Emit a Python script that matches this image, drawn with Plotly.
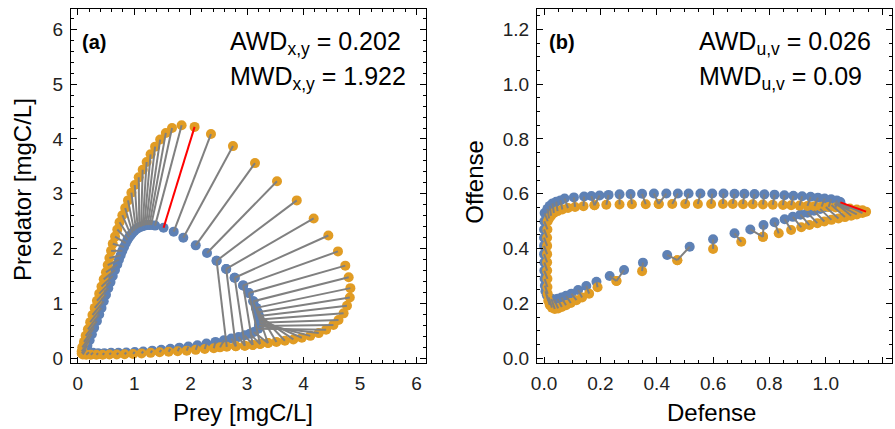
import numpy as np
import plotly.graph_objects as go
from plotly.subplots import make_subplots

# (a) matched pairs: orange point i <-> blue point i  (prey, predator in mgC/L)
prey_o = [0.70, 0.66, 0.62, 0.59, 0.56, 0.53, 0.50, 0.46, 0.42, 0.38, 0.34, 0.30, 0.26, 0.22, 0.18, 0.14,
          0.11, 0.08, 0.07, 0.07, 0.09,
          0.15, 0.23, 0.33, 0.44, 0.56, 0.69, 0.83, 0.98, 1.13, 1.29, 1.45, 1.61, 1.77, 1.93, 2.09, 2.25,
          2.41, 2.52, 2.80, 2.96, 3.10, 3.23, 3.37,
          2.64, 2.80, 2.96, 3.10, 3.23, 3.37, 3.52, 3.67, 3.82, 3.97, 4.12, 4.27, 4.40,
          4.53, 4.62, 4.71, 4.77, 4.82, 4.83, 4.80, 4.74, 4.61, 4.44, 4.18, 3.88, 3.53, 3.14, 2.75, 2.36,
          2.07, 1.84,
          1.67, 1.56, 1.46, 1.37, 1.29, 1.22, 1.15, 1.08, 1.01, 0.95, 0.89, 0.84, 0.79, 0.74]
pred_o = [2.35, 2.22, 2.09, 1.96, 1.83, 1.70, 1.57, 1.44, 1.31, 1.18, 1.05, 0.92, 0.79, 0.66, 0.53, 0.41,
          0.30, 0.20, 0.13, 0.09, 0.07,
          0.065, 0.065, 0.065, 0.065, 0.07, 0.07, 0.075, 0.08, 0.09, 0.10, 0.11, 0.12, 0.13, 0.14, 0.155, 0.17,
          0.185, 0.20, 0.22, 0.23, 0.245, 0.26, 0.28,
          0.21, 0.22, 0.23, 0.245, 0.26, 0.28, 0.30, 0.32, 0.345, 0.375, 0.41, 0.46, 0.52,
          0.61, 0.70, 0.82, 0.96, 1.11, 1.28, 1.48, 1.69, 1.95, 2.24, 2.55, 2.88, 3.23, 3.56, 3.87, 4.09,
          4.22, 4.25,
          4.20, 4.11, 3.99, 3.86, 3.72, 3.58, 3.44, 3.30, 3.16, 3.02, 2.88, 2.74, 2.61, 2.48]
prey_b = [0.88, 0.85, 0.82, 0.79, 0.76, 0.73, 0.70, 0.66, 0.62, 0.58, 0.54, 0.50, 0.46, 0.42, 0.38, 0.34,
          0.29, 0.25, 0.21, 0.17, 0.14,
          0.20, 0.27, 0.36, 0.47, 0.59, 0.72, 0.86, 1.01, 1.16, 1.32, 1.48, 1.64, 1.80, 1.96, 2.12, 2.28,
          2.44, 2.59, 2.72, 2.85, 2.96, 3.05, 3.12,
          2.46, 2.63, 2.78, 2.93, 3.03, 3.11, 3.16, 3.19, 3.21, 3.22, 3.22, 3.21, 3.20,
          3.21, 3.22, 3.22, 3.21, 3.19, 3.16, 3.11, 3.03, 2.93, 2.78, 2.63, 2.46, 2.29, 2.09, 1.87, 1.70,
          1.52, 1.37,
          1.30, 1.27, 1.24, 1.21, 1.18, 1.15, 1.12, 1.09, 1.06, 1.03, 1.00, 0.97, 0.94, 0.91]
pred_b = [2.16, 2.10, 2.03, 1.96, 1.88, 1.80, 1.71, 1.61, 1.50, 1.39, 1.28, 1.16, 1.04, 0.92, 0.80, 0.68,
          0.56, 0.44, 0.33, 0.23, 0.16,
          0.11, 0.10, 0.095, 0.095, 0.10, 0.10, 0.105, 0.115, 0.125, 0.14, 0.155, 0.175, 0.195, 0.215, 0.24, 0.27,
          0.30, 0.33, 0.36, 0.39, 0.42, 0.45, 0.48,
          1.78, 1.63, 1.47, 1.33, 1.19, 1.04, 0.92, 0.84, 0.77, 0.71, 0.65, 0.59, 0.54,
          0.59, 0.65, 0.71, 0.77, 0.84, 0.92, 1.04, 1.19, 1.33, 1.47, 1.63, 1.78, 1.92, 2.06, 2.20, 2.31,
          2.38, 2.42,
          2.43, 2.43, 2.43, 2.43, 2.42, 2.41, 2.40, 2.39, 2.37, 2.35, 2.32, 2.29, 2.25, 2.21]

# (b) matched pairs: orange point i <-> blue point i  (defense, offense)
def_o = [0.013, 0.012, 0.011, 0.011, 0.011, 0.011, 0.011, 0.012, 0.012, 0.013, 0.015, 0.020, 0.028, 0.038,
         0.050, 0.063, 0.078, 0.095, 0.115, 0.135, 0.160, 0.190, 0.257, 0.257, 0.348, 0.473, 0.473, 0.600,
         0.700, 0.777, 0.777, 0.833, 0.877, 0.913, 0.942, 0.970, 0.995, 1.020, 1.045, 1.068, 1.090, 1.143,
         1.110, 1.130, 1.060, 1.085, 1.110, 1.130,
         0.085, 0.110, 0.140, 0.179, 0.179, 0.221, 0.268, 0.312, 0.361, 0.407, 0.407, 0.455, 0.501, 0.546,
         0.593, 0.635, 0.670, 0.706, 0.741, 0.777, 0.812, 0.848, 0.877, 0.907, 0.935, 0.960, 0.985, 1.010,
         1.035,
         0.065, 0.048, 0.035, 0.025, 0.018]
off_o = [0.500, 0.470, 0.440, 0.410, 0.380, 0.350, 0.320, 0.290, 0.260, 0.235, 0.210, 0.195, 0.185, 0.180,
         0.182, 0.187, 0.194, 0.202, 0.212, 0.222, 0.236, 0.259, 0.282, 0.282, 0.318, 0.358, 0.358, 0.399,
         0.425, 0.443, 0.443, 0.456, 0.468, 0.478, 0.486, 0.493, 0.499, 0.505, 0.510, 0.515, 0.520, 0.535,
         0.525, 0.530, 0.548, 0.546, 0.543, 0.540,
         0.548, 0.552, 0.555, 0.558, 0.558, 0.560, 0.561, 0.562, 0.562, 0.563, 0.563, 0.563, 0.563, 0.563,
         0.563, 0.563, 0.563, 0.562, 0.562, 0.561, 0.560, 0.559, 0.558, 0.557, 0.556, 0.555, 0.553, 0.552,
         0.550,
         0.543, 0.537, 0.530, 0.520, 0.510]
def_b = [0.002, 0.001, 0.000, 0.000, 0.000, 0.000, 0.001, 0.001, 0.002, 0.003, 0.005, 0.010, 0.017, 0.026,
         0.036, 0.048, 0.062, 0.078, 0.097, 0.121, 0.150, 0.186, 0.233, 0.284, 0.351, 0.437, 0.517, 0.600,
         0.676, 0.732, 0.779, 0.818, 0.854, 0.883, 0.910, 0.935, 0.958, 0.980, 1.000, 1.020, 1.037, 1.052,
         1.035, 1.050, 1.045, 1.030, 1.040, 1.048,
         0.073, 0.106, 0.142, 0.168, 0.197, 0.229, 0.268, 0.307, 0.348, 0.390, 0.434, 0.475, 0.513, 0.555,
         0.597, 0.637, 0.676, 0.711, 0.747, 0.782, 0.818, 0.853, 0.885, 0.916, 0.946, 0.972, 0.996, 1.019,
         1.039,
         0.058, 0.043, 0.030, 0.020, 0.012]
off_b = [0.530, 0.500, 0.470, 0.440, 0.410, 0.380, 0.350, 0.320, 0.290, 0.265, 0.245, 0.230, 0.222, 0.217,
         0.215, 0.217, 0.222, 0.228, 0.236, 0.249, 0.264, 0.279, 0.300, 0.322, 0.349, 0.377, 0.407, 0.434,
         0.456, 0.470, 0.486, 0.496, 0.507, 0.516, 0.524, 0.531, 0.538, 0.545, 0.552, 0.559, 0.565, 0.569,
         0.564, 0.570, 0.567, 0.562, 0.566, 0.568,
         0.583, 0.587, 0.590, 0.592, 0.594, 0.596, 0.598, 0.599, 0.600, 0.601, 0.601, 0.601, 0.601, 0.601,
         0.601, 0.601, 0.600, 0.600, 0.599, 0.598, 0.597, 0.595, 0.593, 0.591, 0.589, 0.586, 0.583, 0.580,
         0.576,
         0.576, 0.571, 0.565, 0.556, 0.545]

ORANGE = "#E19C24"
BLUE = "#5E81B5"
GRAY = "#808080"
RED = "#FF0000"
FONT = "Liberation Sans, Arial, sans-serif"


def add_panel(fig, col, xo, yo, xb, yb):
    xo, yo, xb, yb = map(np.asarray, (xo, yo, xb, yb))
    dist = np.hypot(xo - xb, yo - yb)
    k = int(np.argmax(dist))  # largest distance is drawn red

    seg_x, seg_y = [], []
    for i in range(len(xo)):
        if i == k:
            continue
        seg_x += [xo[i], xb[i], None]
        seg_y += [yo[i], yb[i], None]

    fig.add_trace(go.Scatter(x=xb, y=yb, mode="markers",
                             marker=dict(color=BLUE, size=10, line=dict(width=0))), row=1, col=col)
    fig.add_trace(go.Scatter(x=xo, y=yo, mode="markers",
                             marker=dict(color=ORANGE, size=10, line=dict(width=0))), row=1, col=col)
    fig.add_trace(go.Scatter(x=seg_x, y=seg_y, mode="lines",
                             line=dict(color=GRAY, width=2)), row=1, col=col)
    fig.add_trace(go.Scatter(x=[xo[k], xb[k]], y=[yo[k], yb[k]], mode="lines",
                             line=dict(color=RED, width=2)), row=1, col=col)


fig = make_subplots(rows=1, cols=2)
add_panel(fig, 1, prey_o, pred_o, prey_b, pred_b)
add_panel(fig, 2, def_o, off_o, def_b, off_b)

axis_style = dict(
    showline=True, linecolor="black", linewidth=1, mirror="allticks",
    ticks="inside", ticklen=6, tickwidth=1, tickcolor="black",
    showgrid=False, zeroline=False,
    tickfont=dict(family=FONT, size=19, color="#222222"),
    minor=dict(ticks="inside", ticklen=3, tickwidth=1, tickcolor="black", showgrid=False),
)

fig.update_xaxes(axis_style)
fig.update_yaxes(axis_style)

fig.update_xaxes(domain=[0, 0.4324], range=[-0.12, 6.17], dtick=1, minor_dtick=0.2,
                 ticklabelstandoff=3, row=1, col=1)
fig.update_yaxes(range=[-0.085, 6.37], dtick=1, minor_dtick=0.2,
                 ticklabelstandoff=3, row=1, col=1)
fig.update_xaxes(domain=[0.5676, 1], range=[-0.025, 1.235], dtick=0.2, minor_dtick=0.05,
                 tickformat=".1f", ticklabelstandoff=3, row=1, col=2)
fig.update_yaxes(range=[-0.017, 1.274], dtick=0.2, minor_dtick=0.05, tickformat=".1f",
                 ticklabelstandoff=3, row=1, col=2)

txt = dict(family=FONT, size=25, color="black")
ttl = dict(family=FONT, size=24, color="black")
bold = dict(family=FONT, size=20, color="black")
notes = [
    dict(x=0.0114, y=0.906, text="<b>(a)</b>", xanchor="left", font=bold),
    dict(x=0.5793, y=0.906, text="<b>(b)</b>", xanchor="left", font=bold),
    dict(x=0.1918, y=0.903, text="AWD<sub>x,y</sub> = 0.202", xanchor="left", font=txt),
    dict(x=0.1918, y=0.805, text="MWD<sub>x,y</sub> = 1.922", xanchor="left", font=txt),
    dict(x=0.7621, y=0.903, text="AWD<sub>u,v</sub> = 0.026", xanchor="left", font=txt),
    dict(x=0.7621, y=0.805, text="MWD<sub>u,v</sub> = 0.09", xanchor="left", font=txt),
    dict(x=0.2095, y=0, yshift=-49, text="Prey [mgC/L]", font=ttl),
    dict(x=0.7804, y=0, yshift=-49, text="Defense", font=ttl),
    dict(x=0, y=0.489, xshift=-48, text="Predator [mgC/L]", textangle=-90, font=ttl),
    dict(x=0.5676, y=0.512, xshift=-62, text="Offense", textangle=-90, font=ttl),
]
for n in notes:
    n.setdefault("xanchor", "center")
    fig.add_annotation(xref="paper", yref="paper", showarrow=False, yanchor="middle", **n)

fig.update_layout(
    width=895, height=429,
    margin=dict(l=71, r=3, t=9, b=66),
    paper_bgcolor="white", plot_bgcolor="white",
    showlegend=False,
)

# the page's default body margin would push the figure out of the window
fig.write_html("out.html", config={"displayModeBar": False},
               post_script="document.body.style.margin='0';")
